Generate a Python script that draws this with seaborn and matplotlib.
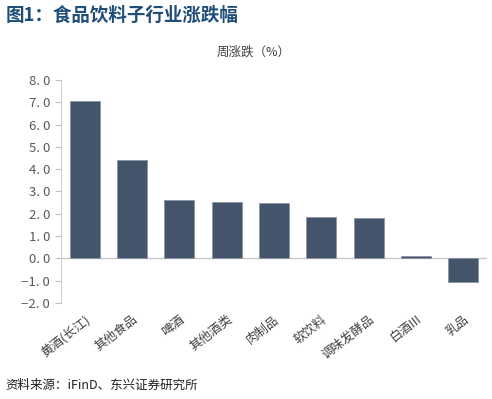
import matplotlib
matplotlib.use("Agg")
import matplotlib.pyplot as plt
import seaborn as sns
import pandas as pd

categories = ["黄酒(长江)", "其他食品", "啤酒", "其他酒类", "肉制品", "软饮料", "调味发酵品", "白酒III", "乳品"]
values = [7.07, 4.43, 2.60, 2.55, 2.50, 1.87, 1.80, 0.09, -1.05]
yticks = [-2.0, -1.0, 0.0, 1.0, 2.0, 3.0, 4.0, 5.0, 6.0, 7.0, 8.0]

sns.set_theme(style="white")
plt.rcParams['font.family'] = ['Noto Sans CJK SC', 'DejaVu Sans']
plt.rcParams['axes.unicode_minus'] = True

df = pd.DataFrame({"cat": categories, "val": values})

fig = plt.figure(figsize=(4.92, 3.99), dpi=100)
ax = fig.add_axes([0.124, 0.2406, 0.866, 0.559])
sns.barplot(data=df, x="cat", y="val", color="#44546A", width=0.63,
            edgecolor="#8A96A8", linewidth=0.6, saturation=1, ax=ax)
ax.set_xlim(-0.5, len(categories) - 0.5)
ax.set_ylim(-2, 8)
ax.set_yticks(yticks)
ax.set_yticklabels([f"{v:.1f}".replace("-", "−").replace(".", ". ") for v in yticks],
                   fontsize=9.5, color="#595959")
ax.set_xticks(range(len(categories)))
ax.set_xticklabels(categories, rotation=38, ha="right", rotation_mode="anchor",
                   fontsize=9, color="#404040")
ax.tick_params(axis="x", length=0, pad=7)
ax.tick_params(axis="y", length=4, width=0.8, color="#BFBFBF", pad=4, direction="out", left=True)
for s in ["top", "right", "bottom"]:
    ax.spines[s].set_visible(False)
ax.spines["left"].set_color("#D0D0D0")
ax.spines["left"].set_linewidth(0.8)
ax.axhline(0, color="#C8C8C8", linewidth=1.0, zorder=0.5)
ax.set_xlabel("")
ax.set_ylabel("")

fig.text(0.012, 0.962, "图1：食品饮料子行业涨跌幅", fontsize=13.3, fontweight="bold",
         color="#1F4E79", va="center", ha="left")
fig.text(0.515, 0.87, "周涨跌（%）", fontsize=9, color="#404040", va="center", ha="center")
fig.text(0.012, 0.035, "资料来源：iFinD、东兴证券研究所", fontsize=9, color="#202020",
         va="center", ha="left", style="italic")

fig.savefig("out.png", dpi=100)
